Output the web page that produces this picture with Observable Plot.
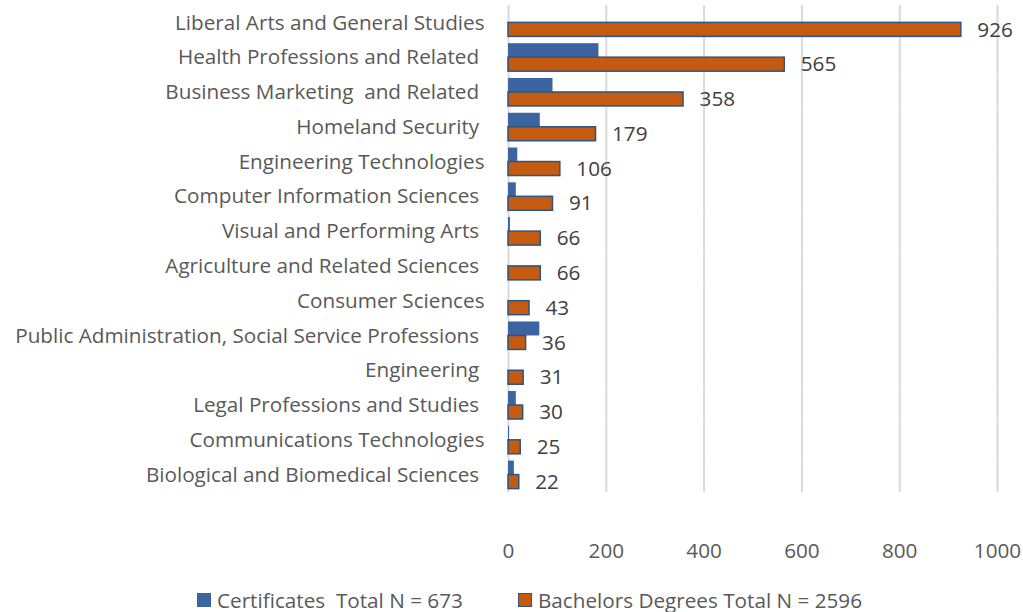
<!DOCTYPE html>
<html><head><meta charset="utf-8">
<script src="https://cdn.jsdelivr.net/npm/d3@7"></script>
<script src="https://cdn.jsdelivr.net/npm/@observablehq/plot@0.6"></script>
<style>
body{margin:0;background:#fff;font-family:"Open Sans",sans-serif;}
#chart svg text{white-space:pre;}
.legend{height:24px;line-height:24px;font-size:20.7px;color:#595959;position:relative;}
.legend span{position:absolute;top:0;white-space:pre;}
.sw{display:inline-block;width:14px;height:14px;vertical-align:middle;margin-right:6px;position:relative;top:-2px;box-sizing:border-box;}
</style></head><body>
<div id="chart"></div>
<div class="legend">
<span style="left:197px"><i class="sw" style="background:#3c64a0"></i>Certificates  Total N = 673</span>
<span style="left:518px"><i class="sw" style="background:#c55a11;border:1.5px solid #2e5484"></i>Bachelors Degrees Total N = 2596</span>
</div>
<script>
const categories = ["Liberal Arts and General Studies","Health Professions and Related ","Business Marketing  and Related ","Homeland Security ","Engineering Technologies","Computer Information Sciences ","Visual and Performing Arts ","Agriculture and Related Sciences ","Consumer Sciences","Public Administration, Social Service Professions ","Engineering ","Legal Professions and Studies ","Communications Technologies","Biological and Biomedical Sciences "];
const certificates = [0,185,91,65,19,16,4,0,0,64,0,16,2,12];
const bachelors = [926,565,358,179,106,91,66,66,43,36,31,30,25,22];
const series = ["Certificates","Bachelors"];
const xTicks = [0,200,400,600,800,1000];

const rows = [];
categories.forEach((c,i)=>{
  rows.push({cat:c, series:"Certificates", value:certificates[i]});
  rows.push({cat:c, series:"Bachelors", value:bachelors[i]});
});
const bach = rows.filter(d=>d.series==="Bachelors");
const cert = rows.filter(d=>d.series==="Certificates");

const plot = Plot.plot({
  width:1023, height:588,
  marginLeft:508, marginRight:26, marginTop:5, marginBottom:96,
  style:{fontFamily:"Open Sans, sans-serif", fontSize:"20.7px", color:"#595959", background:"#fff"},
  x:{domain:[0,1000], ticks:xTicks},
  fy:{domain:categories, padding:0, round:false},
  y:{domain:series, paddingInner:0, paddingOuter:0.243, round:false, axis:null},
  marks:[
    Plot.gridX(xTicks,{stroke:"#d9d9d9", strokeOpacity:1, strokeWidth:2}),
    Plot.barX(cert,{x:"value", y:"series", fy:"cat", fill:"#3c64a0", inset:0}),
    Plot.barX(bach,{x:"value", y:"series", fy:"cat", fill:"#c55a11", stroke:"#2e5484", strokeWidth:1.5, inset:0}),
    Plot.text(bach,{x:"value", y:"series", fy:"cat", text:d=>String(d.value), dx:16, textAnchor:"start", fill:"#404040", fontSize:20.7}),
    Plot.axisX(xTicks,{tickSize:0, tickPadding:51, fontSize:20.7, fill:"#595959", label:null, tickFormat:d=>String(d)}),
    Plot.axisFy({anchor:"left", tickSize:0, tickPadding:24, fontSize:20.7, fill:"#595959", label:null})
  ]
});
document.getElementById("chart").appendChild(plot);
</script>
</body></html>
